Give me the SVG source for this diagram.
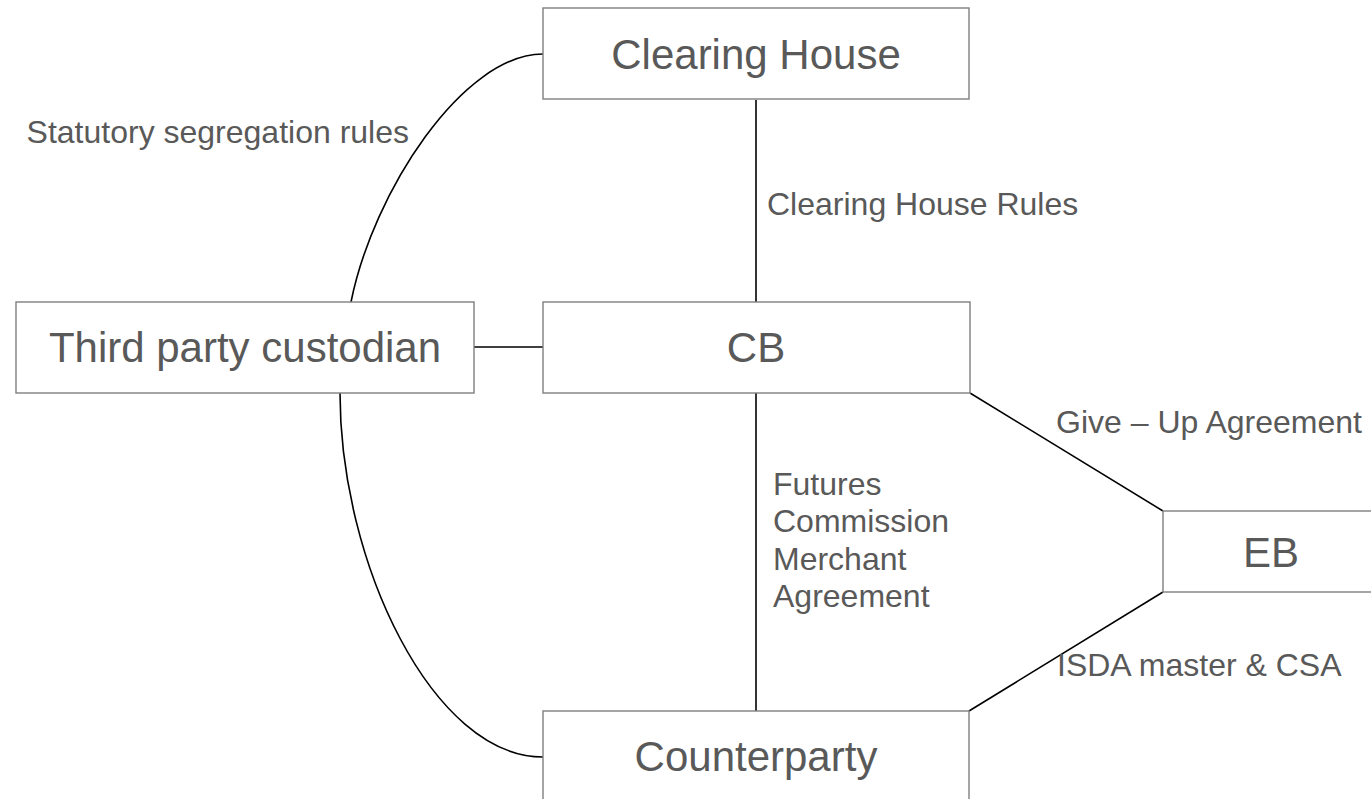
<svg xmlns="http://www.w3.org/2000/svg" width="1371" height="799" viewBox="0 0 1371 799">
<style>
.box{fill:#ffffff;stroke:#7f7f7f;stroke-width:1.4}
.nt{font-family:"Liberation Sans",Arial,sans-serif;font-size:42px;fill:#595959;text-anchor:middle}
.lb{font-family:"Liberation Sans",Arial,sans-serif;font-size:32px;fill:#595959}
.cn{fill:none;stroke:#000000;stroke-width:1.6}
</style>
<rect width="1371" height="799" fill="#ffffff"/>
<g id="connectors">
<line class="cn" x1="756" y1="100" x2="756" y2="302"/>
<line class="cn" x1="756" y1="393" x2="756" y2="711"/>
<line class="cn" x1="474" y1="347" x2="543" y2="347"/>
<line class="cn" x1="970" y1="393" x2="1163" y2="511"/>
<line class="cn" x1="1163" y1="592" x2="969" y2="711"/>
<path class="cn" d="M351,302 C373,192 463,54 543,54"/>
<path class="cn" d="M340,393 C340,563 433,757 543,757"/>
<text class="lb" x="409" y="143" text-anchor="end">Statutory segregation rules</text>
<text class="lb" x="767" y="215">Clearing House Rules</text>
<text class="lb" x="1056" y="433">Give – Up Agreement</text>
<text class="lb" x="773" y="495">Futures</text>
<text class="lb" x="773" y="532">Commission</text>
<text class="lb" x="773" y="570">Merchant</text>
<text class="lb" x="773" y="607">Agreement</text>
<text class="lb" x="1057" y="676">ISDA master &amp; CSA</text>
</g>
<g id="clearing-house">
<rect class="box" x="543" y="8" width="426" height="91"/>
<text class="nt" x="756" y="69">Clearing House</text>
</g>
<g id="third-party-custodian">
<rect class="box" x="16" y="302" width="458" height="91"/>
<text class="nt" x="245" y="362">Third party custodian</text>
</g>
<g id="cb">
<rect class="box" x="543" y="302" width="427" height="91"/>
<text class="nt" x="756" y="362">CB</text>
</g>
<g id="eb">
<rect class="box" x="1163" y="511" width="216" height="81"/>
<text class="nt" x="1271" y="567">EB</text>
</g>
<g id="counterparty">
<rect class="box" x="543" y="711" width="426" height="91"/>
<text class="nt" x="756" y="771">Counterparty</text>
</g>
</svg>
